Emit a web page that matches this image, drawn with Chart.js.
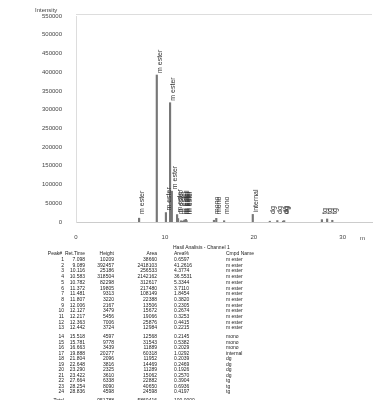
<!DOCTYPE html>
<html>
<head>
<meta charset="utf-8">
<script src="https://cdn.jsdelivr.net/npm/chart.js@4/dist/chart.umd.min.js"></script>
<style>
  body { margin: 0; background: #fff; width: 391px; height: 400px; overflow: hidden; position: relative; font-family: "Liberation Sans", Arial, sans-serif; }
  #chartBox { position: absolute; left: 0; top: 0; width: 391px; height: 245px; }
  .cell { position: absolute; font-size: 5px; line-height: 6px; color: #222; white-space: nowrap; }
  #title { position: absolute; left: 173px; top: 244px; font-size: 5px; color: #222; }
</style>
</head>
<body>
<div id="chartBox"><canvas id="chromChart" width="391" height="245"></canvas></div>
<div id="title">Hasil Analisis - Channel 1</div>
<div id="table"></div>
<script>
'use strict';
// peak table
var retTime = [7.098, 9.089, 10.116, 10.583, 10.782, 11.372, 11.481, 11.807, 12.006, 12.127, 12.217, 12.363, 12.442,
  15.518, 15.781, 16.663, 19.888, 21.804, 22.648, 23.290, 23.422, 27.664, 28.254, 28.836];
var height = [10209, 392457, 25186, 318504, 82298, 19805, 9313, 3220, 2167, 3479, 5456, 7006, 3724,
  4597, 9778, 3439, 20277, 2096, 3816, 2325, 3610, 6338, 8090, 4598];
var area = [38660, 2418103, 256533, 2142162, 312617, 217480, 108149, 22388, 13506, 15672, 19066, 25876, 12984,
  12568, 31543, 11889, 60318, 11952, 14469, 11289, 15062, 22882, 40650, 24598];
var areaPct = ['0.6597', '41.2616', '4.3774', '36.5531', '5.3344', '3.7110', '1.8454', '0.3820', '0.2305', '0.2674', '0.3253', '0.4415', '0.2215',
  '0.2145', '0.5382', '0.2029', '1.0292', '0.2039', '0.2469', '0.1926', '0.2570', '0.3904', '0.6936', '0.4197'];
var cmpdName = ['m ester', 'm ester', 'm ester', 'm ester', 'm ester', 'm ester', 'm ester', 'm ester', 'm ester', 'm ester', 'm ester', 'm ester', 'm ester',
  'mono', 'mono', 'mono', 'internal', 'dg', 'dg', 'dg', 'dg', 'tg', 'tg', 'tg'];
var totals = ['Total', '', '951788', '5860416', '100.0000'];
var yTicks = [0, 50000, 100000, 150000, 200000, 250000, 300000, 350000, 400000, 450000, 500000, 550000];
var xTicks = [0, 10, 20, 30];

var peaks = [];
for (var i = 0; i < retTime.length; i++) {
  peaks.push({ x: retTime[i], y: height[i] });
}

// rotated compound names above each peak, plus the axis captions
var peakLabels = {
  id: 'peakLabels',
  afterDatasetsDraw: function (chart) {
    var c = chart.ctx;
    var xs = chart.scales.x;
    var ys = chart.scales.y;
    c.save();
    c.fillStyle = '#333';
    c.font = '7px "Liberation Sans", Arial, sans-serif';
    c.textAlign = 'left';
    c.textBaseline = 'middle';
    for (var i = 0; i < retTime.length; i++) {
      var px = xs.getPixelForValue(retTime[i]);
      var py = ys.getPixelForValue(height[i]);
      c.save();
      c.translate(px + 3, Math.min(py, ys.bottom - 6) - 2);
      c.rotate(-Math.PI / 2);
      c.fillText(cmpdName[i], 0, 0);
      c.restore();
    }
    // top frame line
    c.strokeStyle = '#ddd';
    c.lineWidth = 1;
    c.beginPath();
    c.moveTo(chart.chartArea.left, chart.chartArea.top - 1.5);
    c.lineTo(chart.chartArea.right, chart.chartArea.top - 1.5);
    c.stroke();
    c.fillStyle = '#444';
    c.font = '6px "Liberation Sans", Arial, sans-serif';
    c.textAlign = 'left';
    c.fillText('Intensity', 35, 10);
    c.fillText('m', 360, 238);
    c.restore();
  }
};

var ctx = document.getElementById('chromChart').getContext('2d');
var chart = new Chart(ctx, {
  type: 'bar',
  data: {
    datasets: [{
      label: 'Channel 1',
      data: peaks,
      backgroundColor: '#777',
      borderWidth: 0,
      barThickness: 1.5
    }]
  },
  plugins: [peakLabels],
  options: {
    responsive: false,
    animation: false,
    layout: { padding: { left: 0, right: 19, top: 16, bottom: 0 } },
    plugins: { legend: { display: false }, tooltip: { enabled: false } },
    scales: {
      x: {
        type: 'linear',
        offset: false,
        min: 0,
        max: 33.3,
        afterBuildTicks: function (scale) {
          scale.ticks = xTicks.map(function (v) { return { value: v }; });
        },
        afterFit: function (scale) { scale.height = 23; },
        grid: { display: false, offset: false },
        border: { display: true, color: '#ccc' },
        ticks: { color: '#444', font: { size: 6, family: 'Liberation Sans' }, padding: 4, maxRotation: 0 }
      },
      y: {
        min: 0,
        max: 550000,
        afterBuildTicks: function (scale) {
          scale.ticks = yTicks.map(function (v) { return { value: v }; });
        },
        afterFit: function (scale) { scale.width = 76; },
        grid: { display: false },
        border: { display: true, color: '#ddd' },
        ticks: {
          color: '#444', font: { size: 6, family: 'Liberation Sans' }, padding: 6,
          callback: function (v) { return String(v); }
        }
      }
    }
  }
});

// peak table under the chart
var table = document.getElementById('table');
function cell(text, x, y, align) {
  var d = document.createElement('div');
  d.className = 'cell';
  d.textContent = text;
  d.style.top = (y - 3) + 'px';
  if (align === 'right') {
    d.style.right = (391 - x) + 'px';
  } else {
    d.style.left = x + 'px';
  }
  table.appendChild(d);
}
var colX = [64, 85, 114, 157, 174, 226];
var colAlign = ['right', 'right', 'right', 'right', 'left', 'left'];
var header = ['Peak#', 'Ret.Time', 'Height', 'Area', 'Area%', 'Cmpd Name'];
for (var h = 0; h < header.length; h++) {
  cell(header[h], h === 0 ? 62 : colX[h], 253, colAlign[h]);
}
for (var r = 0; r < retTime.length; r++) {
  var y = r < 13 ? 259 + r * 5.7 : 336 + (r - 13) * 5.5;
  var vals = [String(r + 1), retTime[r].toFixed(3), String(height[r]), String(area[r]), areaPct[r], cmpdName[r]];
  for (var k = 0; k < vals.length; k++) {
    cell(vals[k], colX[k], y, colAlign[k]);
  }
}
for (var t = 0; t < totals.length; t++) {
  if (totals[t]) cell(totals[t], colX[t], 400, colAlign[t]);
}
</script>
</body>
</html>
